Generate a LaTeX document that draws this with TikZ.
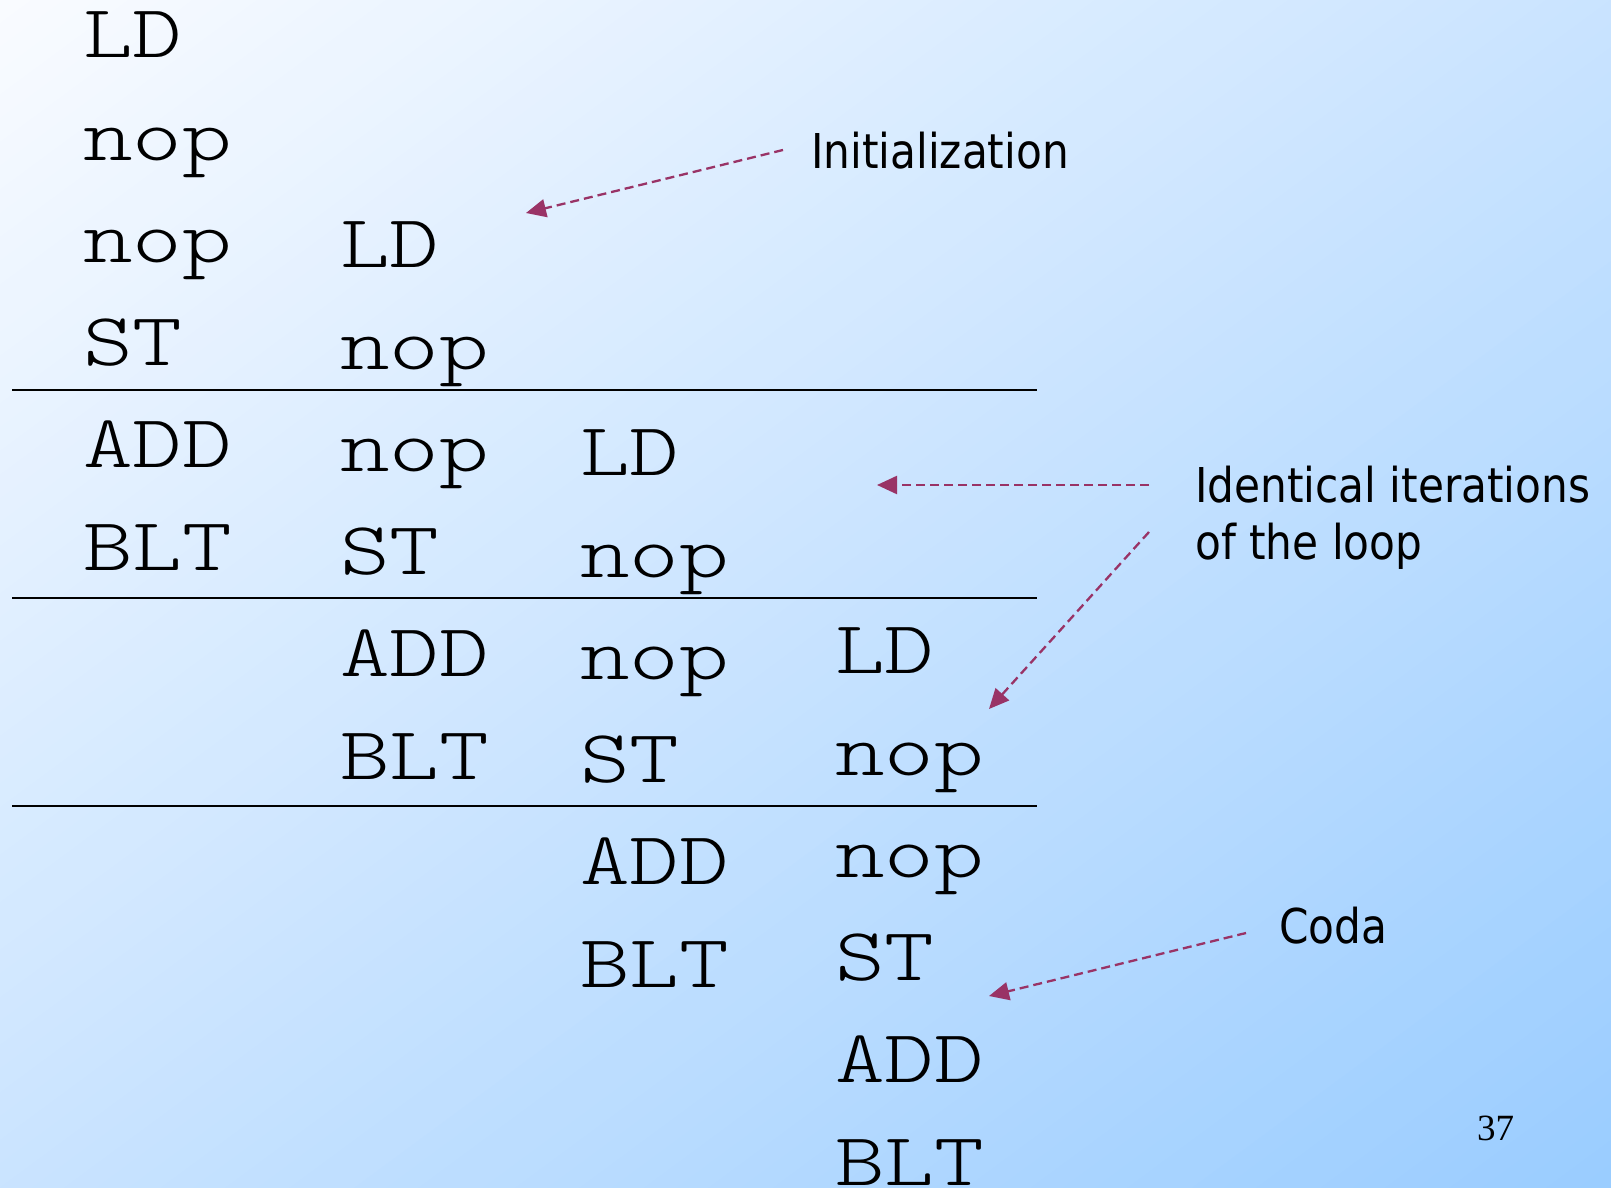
\documentclass[tikz,border=0pt]{standalone}
\usepackage{fontspec}
\usetikzlibrary{arrows.meta}

% typewriter face for the instruction schedule, sans face for the notes
\newfontfamily\codefont[FakeStretch=1.26]{lmmonolt10-regular.otf}
\newfontfamily\labelfont[FakeStretch=0.88]{DejaVu Sans}
\newfontfamily\pagefont{Liberation Serif}

\definecolor{grStart}{RGB}{249,251,255}
\definecolor{grEnd}{RGB}{153,204,255}
\definecolor{plum}{RGB}{153,51,102}

\tikzset{
  instr/.style={anchor=base west, inner sep=0pt,
    font=\codefont\fontsize{75}{80}\selectfont},
  note/.style={anchor=base west, inner sep=0pt,
    font=\labelfont\fontsize{48}{57}\selectfont},
  separator/.style={line width=2.2pt, black},
  pointer/.style={plum, line width=2.3pt, dash pattern=on 9pt off 5pt,
    -{Triangle[length=20pt,width=18pt]}},
}

\begin{document}
\begin{tikzpicture}[x=1pt,y=-1pt]
\useasboundingbox (0,0) rectangle (1611,1188);

% diagonal background gradient, built from thin bands
\begin{scope}
  \clip (0,0) rectangle (1611,1188);
  \begin{scope}[xscale=1611,yscale=1188]
    \foreach \i in {0,...,99}{
      \pgfmathsetmacro\sa{\i/50}
      \pgfmathsetmacro\sb{(\i+1.6)/50}
      \fill[grEnd!\i!grStart] (\sa+0.1,-0.1) -- (\sb+0.1,-0.1)
        -- (\sb-1.1,1.1) -- (\sa-1.1,1.1) -- cycle;
    }
  \end{scope}
\end{scope}

% column 1
\node[instr] (c1r1) at (83,58)    {LD};
\node[instr] (c1r2) at (83,160.4) {nop};
\node[instr] (c1r3) at (83,262.8) {nop};
\node[instr] (c1r4) at (83,365.2) {ST};
\node[instr] (c1r5) at (83,467.6) {ADD};
\node[instr] (c1r6) at (83,570)   {BLT};

% column 2
\node[instr] (c2r3) at (340,267)   {LD};
\node[instr] (c2r4) at (340,369.4) {nop};
\node[instr] (c2r5) at (340,471.8) {nop};
\node[instr] (c2r6) at (340,574.2) {ST};
\node[instr] (c2r7) at (340,676.6) {ADD};
\node[instr] (c2r8) at (340,779)   {BLT};

% column 3
\node[instr] (c3r5)  at (580,475)   {LD};
\node[instr] (c3r6)  at (580,577.4) {nop};
\node[instr] (c3r7)  at (580,679.8) {nop};
\node[instr] (c3r8)  at (580,782.2) {ST};
\node[instr] (c3r9)  at (580,884.6) {ADD};
\node[instr] (c3r10) at (580,987)   {BLT};

% column 4
\node[instr] (c4r7)  at (835,673)    {LD};
\node[instr] (c4r8)  at (835,775.4)  {nop};
\node[instr] (c4r9)  at (835,877.8)  {nop};
\node[instr] (c4r10) at (835,980.2)  {ST};
\node[instr] (c4r11) at (835,1082.6) {ADD};
\node[instr] (c4r12) at (835,1185)   {BLT};

% boundaries between prologue, kernel iterations and epilogue
\coordinate (s1a) at (12,390);   \coordinate (s1b) at (1037,390);
\coordinate (s2a) at (12,597.7); \coordinate (s2b) at (1037,597.7);
\coordinate (s3a) at (12,805.7); \coordinate (s3b) at (1037,805.7);
\draw[separator] (s1a) -- (s1b);
\draw[separator] (s2a) -- (s2b);
\draw[separator] (s3a) -- (s3b);

% notes
\node[note] (init)  at (811,168)  {Initialization};
\node[note] (iterA) at (1195,502) {Identical iterations};
\node[note] (iterB) at (1195,559) {of the loop};
\node[note] (coda)  at (1279,943) {Coda};
\node[anchor=base west, inner sep=0pt,
      font=\pagefont\fontsize{37}{40}\selectfont] (pg) at (1477,1140) {37};

% pointers from the notes
\coordinate (p1s) at (783,150);  \coordinate (p1e) at (526,213);
\coordinate (p2s) at (1149,485); \coordinate (p2e) at (877,485);
\coordinate (p3s) at (1149,532); \coordinate (p3e) at (989,709);
\coordinate (p4s) at (1246,933); \coordinate (p4e) at (989,996);
\draw[pointer] (p1s) -- (p1e);
\draw[pointer] (p2s) -- (p2e);
\draw[pointer] (p3s) -- (p3e);
\draw[pointer] (p4s) -- (p4e);
\end{tikzpicture}
\end{document}
